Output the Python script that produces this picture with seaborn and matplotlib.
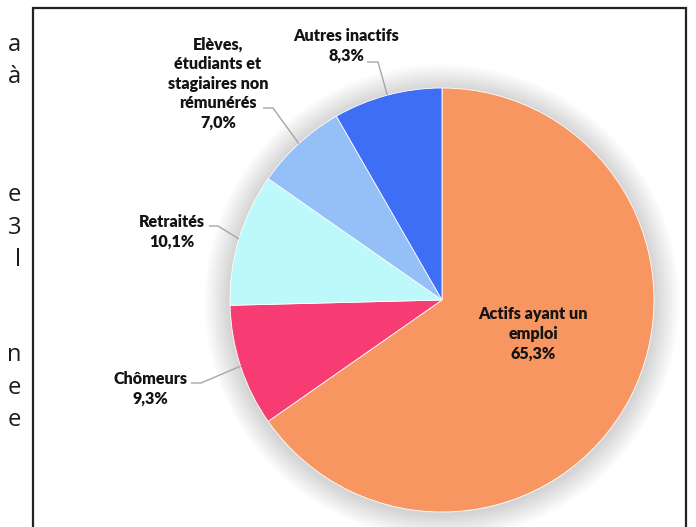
import matplotlib
matplotlib.use("Agg")
import matplotlib.pyplot as plt
import seaborn as sns
import numpy as np
from matplotlib.patches import Circle, Rectangle

sns.set_theme(style="white")
plt.rcParams['font.family'] = ['Lato', 'DejaVu Sans']

# ---- data ----
categories = ["Actifs ayant un\nemploi", "Chômeurs", "Retraités",
              "Elèves,\nétudiants et\nstagiaires non\nrémunérés", "Autres inactifs"]
values = [65.3, 9.3, 10.1, 7.0, 8.3]
pct_labels = ["65,3%", "9,3%", "10,1%", "7,0%", "8,3%"]
colors = ["#F79660", "#F63C73", "#BDF8FB", "#94BFF7", "#3E6EF5"]

# cut-off document text on the left
side_text = ["a", "à", "e", "3", "l", "n", "e", "e"]
side_y = [45, 77, 195, 228, 260, 355, 388, 420]

W, H = 696, 527
fig = plt.figure(figsize=(W / 100, H / 100), dpi=100)
ax = fig.add_axes([0, 0, 1, 1])

CX, CY, R = 442, 300, 212  # pixel layout of the pie


def px(x, y):
    return (x - CX) / R, (CY - y) / R


# soft shadow glow
for k in range(22):
    ax.add_patch(Circle((0.0, -0.008), 1.0 + 0.0055 * (k + 1), color="#808080",
                        alpha=0.011, lw=0, zorder=0))

wedges, _ = ax.pie(values, colors=colors, startangle=90, counterclock=False,
                   radius=1, center=(0, 0), frame=True,
                   wedgeprops=dict(edgecolor="white", linewidth=0.6))
ax.set_xlim(-CX / R, (W - CX) / R)
ax.set_ylim(-(H - CY) / R, CY / R)
ax.set_aspect("auto")
ax.axis("off")

# label layout (pixel centres) and leader elbows
label_pos = [(533, 334), (150, 389), (172, 232), (218, 83.5), (346, 46)]
leader = [None, [(191, 383), (201, 383)], [(209, 226), (218, 226)],
          [(263, 108), (273, 108)], [(367, 62), (378, 62)]]

for i, w in enumerate(wedges):
    txt = categories[i] + "\n" + pct_labels[i]
    x, y = px(*label_pos[i])
    ax.text(x, y, txt, ha="center", va="center", fontsize=11.6,
            fontweight="heavy", color="#141414", linespacing=1.27, zorder=5)
    if leader[i] is not None:
        theta = np.deg2rad((w.theta1 + w.theta2) / 2)
        ex, ey = np.cos(theta) * w.r, np.sin(theta) * w.r
        p0 = px(*leader[i][0])
        p1 = px(*leader[i][1])
        ax.plot([p0[0], p1[0], ex], [p0[1], p1[1], ey], color="#A6A6A6",
                lw=1.0, zorder=4, solid_capstyle="butt")

# frame box around chart
fig.patches.append(Rectangle((33 / W, -0.01), (686 - 33) / W, 1 - 8 / H + 0.01,
                             transform=fig.transFigure, fill=False,
                             edgecolor="#222222", linewidth=1.6))

for t, y in zip(side_text, side_y):
    fig.text(21 / W, 1 - y / H, t, ha="right", va="center", fontsize=17,
             family=["Open Sans", "DejaVu Sans"], color="#1a1a1a")

fig.savefig("out.png", dpi=100)
